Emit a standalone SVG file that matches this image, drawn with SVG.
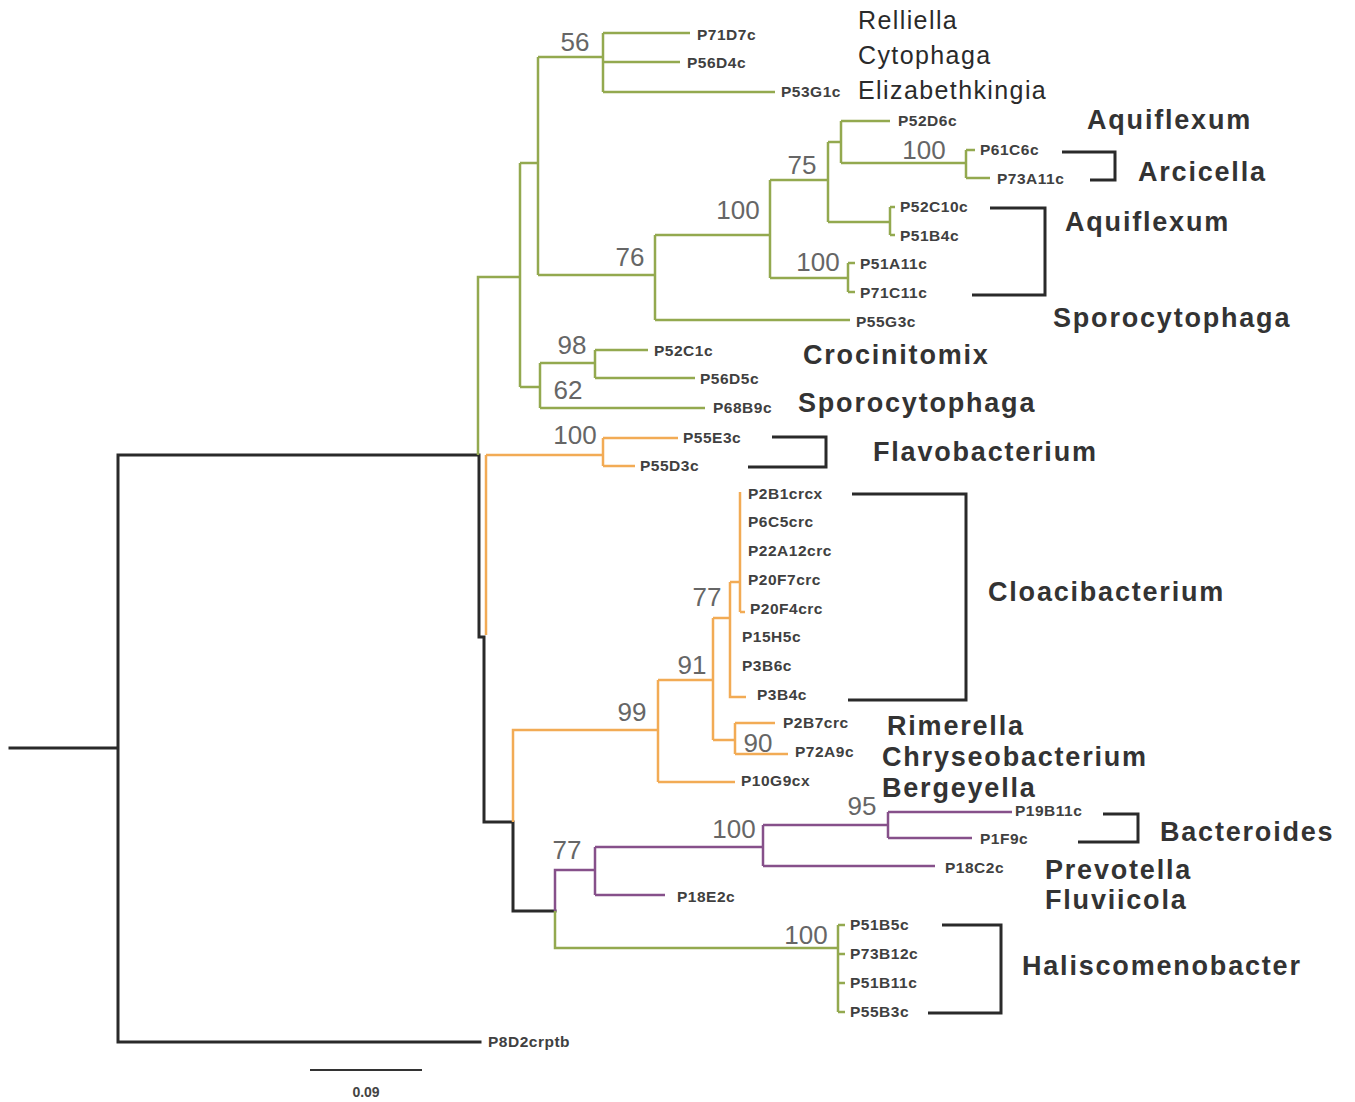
<svg xmlns="http://www.w3.org/2000/svg" width="1355" height="1102" viewBox="0 0 1355 1102">
<style>
.k{stroke:#2a2a2a;stroke-width:3;fill:none;stroke-linecap:square}
.g{stroke:#93a94f;stroke-width:2.5;fill:none}
.o{stroke:#f2ab55;stroke-width:2.5;fill:none}
.p{stroke:#86508a;stroke-width:2.5;fill:none}
.br{stroke:#2a2a2a;stroke-width:3;fill:none}
.tip{font-family:"Liberation Sans",Arial,sans-serif;font-size:15.5px;font-weight:bold;fill:#404040;letter-spacing:0.5px}
.bs{font-family:"Liberation Sans Narrow","Liberation Sans",Arial,sans-serif;font-size:26px;fill:#666}
.gn{font-family:"Liberation Sans",Arial,sans-serif;font-size:27px;font-weight:bold;fill:#333;letter-spacing:1.8px}
.gr{font-family:"Liberation Sans",Arial,sans-serif;font-size:25px;fill:#2a2a2a;letter-spacing:1.4px}
</style>
<rect width="1355" height="1102" fill="#fff"/>
<g id="connectors">
<path class="k" d="M10 748H118M118 455V1042M118 455H479M118 1042H480M479 455V637H484V822H513V911H555"/>
<path class="g" d="M478 455V277H520M520 163V387M520 163H538M538 57V275M538 57H603M603 33V92M603 33H690M603 62H680M603 92H775M538 275H655M655 235V320M655 320H850M655 235H770M770 180V278M770 180H828M828 142V222M828 142H841M841 121V163M841 121H890M841 163H966M966 150V178M966 150H975M966 178H990M828 222H890M890 207V235M890 207H895M890 235H895M770 278H848M848 263V292M848 263H855M848 292H855M520 387H540M540 363V408M540 363H595M540 408H705M595 350V378M595 350H648M595 378H695"/>
<path class="g" d="M555 911V948H838M838 925V1012M838 925H845M838 954H845M838 983H845M838 1012H845"/>
<path class="o" d="M486 455V635M486 455H603M603 438V466M603 438H678M603 466H635M513 822V730H658M658 680V782M658 782H735M658 680H713M713 618V740M713 740H735M735 723V754M735 723H775M735 754H788M713 618H730M730 582V697H746M730 582H740M740 492V612M740 612H745"/>
<path class="p" d="M555 911V870H595M595 847V895M595 895H665M595 847H763M763 825V866M763 866H935M763 825H888M888 812V838M888 812H1012M888 838H972"/>
<path d="M310 1070H422" stroke="#333" stroke-width="2"/>
</g>
<g id="brackets">
<path class="br" d="M1062 152H1115V180H1090"/>
<path class="br" d="M990 208H1045V295H972"/>
<path class="br" d="M772 437H826V467H748"/>
<path class="br" d="M852 494H966V700H848"/>
<path class="br" d="M1103 814H1138V842H1078"/>
<path class="br" d="M942 925H1001V1013H928"/>
</g>
<g id="tips">
<text class="tip" x="697" y="40">P71D7c</text>
<text class="tip" x="687" y="68">P56D4c</text>
<text class="tip" x="781" y="97">P53G1c</text>
<text class="tip" x="898" y="126">P52D6c</text>
<text class="tip" x="980" y="155">P61C6c</text>
<text class="tip" x="997" y="184">P73A11c</text>
<text class="tip" x="900" y="212">P52C10c</text>
<text class="tip" x="900" y="241">P51B4c</text>
<text class="tip" x="860" y="269">P51A11c</text>
<text class="tip" x="860" y="298">P71C11c</text>
<text class="tip" x="856" y="327">P55G3c</text>
<text class="tip" x="654" y="356">P52C1c</text>
<text class="tip" x="700" y="384">P56D5c</text>
<text class="tip" x="713" y="413">P68B9c</text>
<text class="tip" x="683" y="443">P55E3c</text>
<text class="tip" x="640" y="471">P55D3c</text>
<text class="tip" x="748" y="499">P2B1crcx</text>
<text class="tip" x="748" y="527">P6C5crc</text>
<text class="tip" x="748" y="556">P22A12crc</text>
<text class="tip" x="748" y="585">P20F7crc</text>
<text class="tip" x="750" y="614">P20F4crc</text>
<text class="tip" x="742" y="642">P15H5c</text>
<text class="tip" x="742" y="671">P3B6c</text>
<text class="tip" x="757" y="700">P3B4c</text>
<text class="tip" x="783" y="728">P2B7crc</text>
<text class="tip" x="795" y="757">P72A9c</text>
<text class="tip" x="741" y="786">P10G9cx</text>
<text class="tip" x="1015" y="816">P19B11c</text>
<text class="tip" x="980" y="844">P1F9c</text>
<text class="tip" x="945" y="873">P18C2c</text>
<text class="tip" x="677" y="902">P18E2c</text>
<text class="tip" x="850" y="930">P51B5c</text>
<text class="tip" x="850" y="959">P73B12c</text>
<text class="tip" x="850" y="988">P51B11c</text>
<text class="tip" x="850" y="1017">P55B3c</text>
<text class="tip" x="488" y="1047">P8D2crptb</text>
</g>
<g id="bootstrap">
<text class="bs" x="575" y="51" text-anchor="middle">56</text>
<text class="bs" x="924" y="159" text-anchor="middle">100</text>
<text class="bs" x="802" y="174" text-anchor="middle">75</text>
<text class="bs" x="738" y="219" text-anchor="middle">100</text>
<text class="bs" x="630" y="266" text-anchor="middle">76</text>
<text class="bs" x="818" y="271" text-anchor="middle">100</text>
<text class="bs" x="572" y="354" text-anchor="middle">98</text>
<text class="bs" x="568" y="399" text-anchor="middle">62</text>
<text class="bs" x="575" y="444" text-anchor="middle">100</text>
<text class="bs" x="707" y="606" text-anchor="middle">77</text>
<text class="bs" x="692" y="674" text-anchor="middle">91</text>
<text class="bs" x="632" y="721" text-anchor="middle">99</text>
<text class="bs" x="758" y="752" text-anchor="middle">90</text>
<text class="bs" x="862" y="815" text-anchor="middle">95</text>
<text class="bs" x="734" y="838" text-anchor="middle">100</text>
<text class="bs" x="567" y="859" text-anchor="middle">77</text>
<text class="bs" x="806" y="944" text-anchor="middle">100</text>
</g>
<g id="genera">
<text class="gr" x="858" y="29">Relliella</text>
<text class="gr" x="858" y="64">Cytophaga</text>
<text class="gr" x="858" y="99">Elizabethkingia</text>
<text class="gn" x="1087" y="129">Aquiflexum</text>
<text class="gn" x="1138" y="181">Arcicella</text>
<text class="gn" x="1065" y="231">Aquiflexum</text>
<text class="gn" x="1053" y="327">Sporocytophaga</text>
<text class="gn" x="803" y="364">Crocinitomix</text>
<text class="gn" x="798" y="412">Sporocytophaga</text>
<text class="gn" x="873" y="461">Flavobacterium</text>
<text class="gn" x="988" y="601">Cloacibacterium</text>
<text class="gn" x="887" y="735">Rimerella</text>
<text class="gn" x="882" y="766">Chryseobacterium</text>
<text class="gn" x="882" y="797">Bergeyella</text>
<text class="gn" x="1160" y="841">Bacteroides</text>
<text class="gn" x="1045" y="879">Prevotella</text>
<text class="gn" x="1045" y="909">Fluviicola</text>
<text class="gn" x="1022" y="975">Haliscomenobacter</text>
</g>
<text x="366" y="1097" text-anchor="middle" font-family="Liberation Sans, Arial, sans-serif" font-size="14" font-weight="bold" fill="#444">0.09</text>
</svg>
